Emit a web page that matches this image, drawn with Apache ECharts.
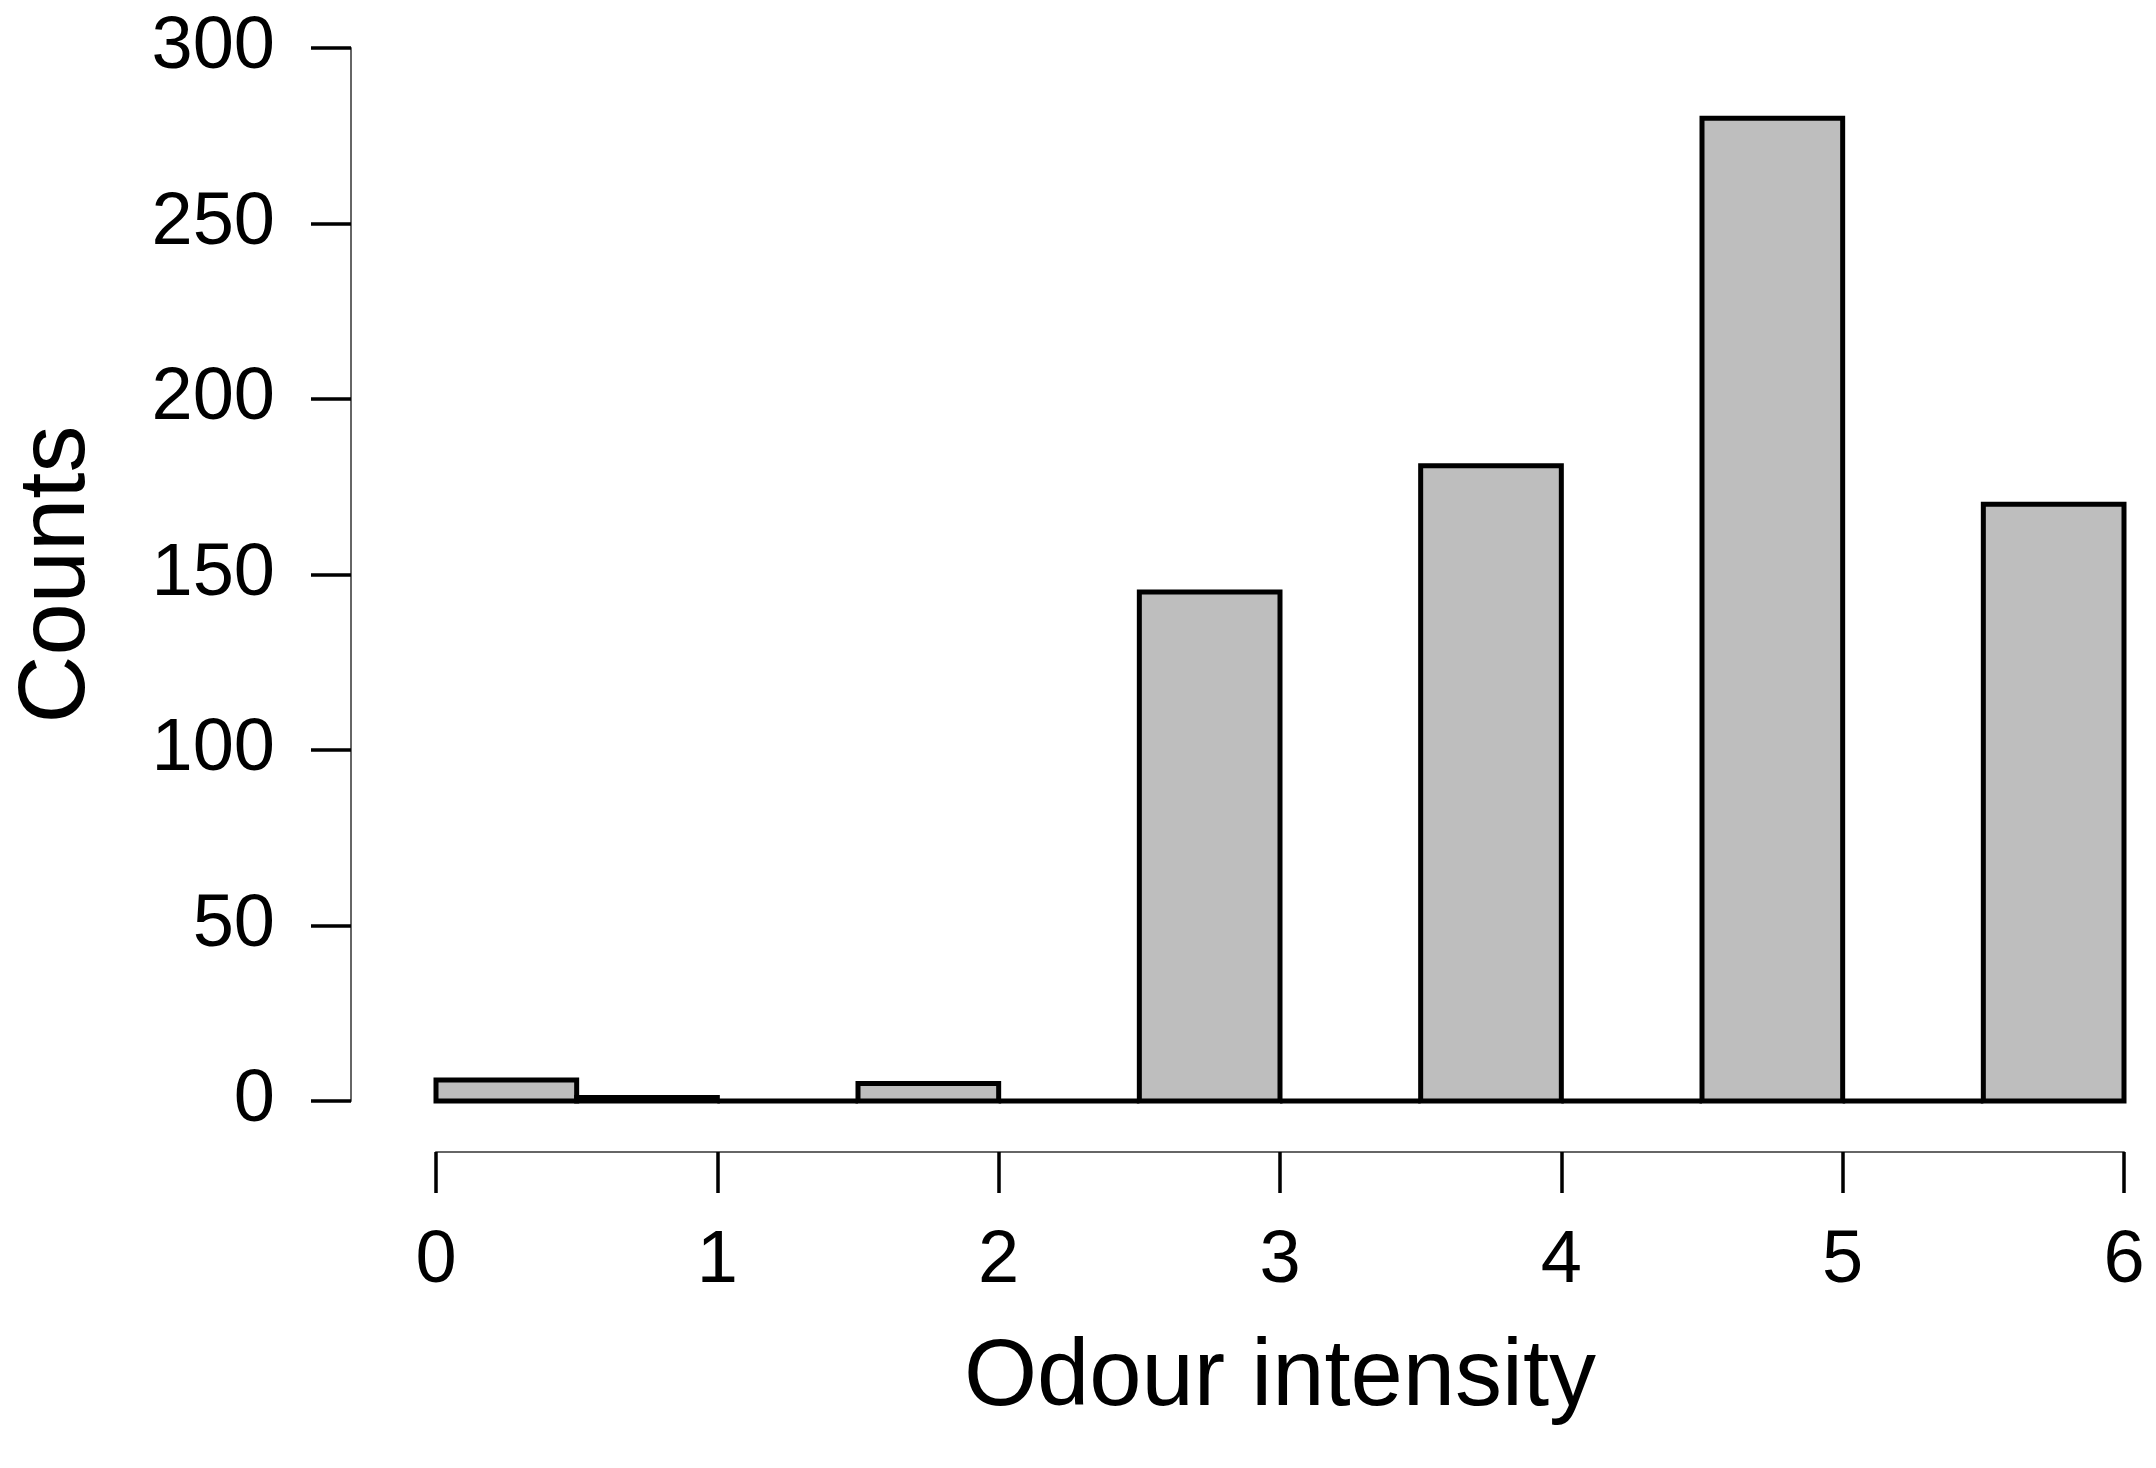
<!DOCTYPE html>
<html>
<head>
<meta charset="utf-8">
<script src="https://cdn.jsdelivr.net/npm/echarts@6/dist/echarts.min.js"></script>
<style>
  html, body { margin: 0; padding: 0; background: #fff; }
  #main { width: 2156px; height: 1468px; }
</style>
</head>
<body>
<div id="main"></div>
<script>
// 直方图的分箱 (宽 0.5)
var binStarts = [0, 0.5, 1, 1.5, 2, 2.5, 3, 3.5, 4, 4.5, 5, 5.5];
var binEnds = [0.5, 1, 1.5, 2, 2.5, 3, 3.5, 4, 4.5, 5, 5.5, 6];
var counts = [6, 1, 0, 5, 0, 145, 0, 181, 0, 280, 0, 170];
var xTicks = [0, 1, 2, 3, 4, 5, 6];
var yTicks = [0, 50, 100, 150, 200, 250, 300];

var fontFam = '"Liberation Sans", Arial, sans-serif';

var myChart = echarts.init(document.getElementById('main'));

var histData = binStarts.map(function (s, i) {
	return [s, binEnds[i], counts[i]];
});

var option = {
	backgroundColor: '#fff',
	animation: false,
	grid: {
		left: 436,
		right: 32,
		top: 48,
		bottom: 367
	},
	xAxis: {
		type: 'value',
		min: xTicks[0],
		max: xTicks[xTicks.length - 1],
		interval: 1,
		offset: 51,
		name: 'Odour intensity',
		nameLocation: 'middle',
		nameGap: 180,
		nameTextStyle: { fontSize: 94, fontFamily: fontFam, color: '#000', lineHeight: 94 },
		axisLine: { show: true, onZero: false, lineStyle: { color: '#666', width: 2 } },
		axisTick: { show: true, length: 41, lineStyle: { color: '#000', width: 3.5 } },
		axisLabel: { fontSize: 74, lineHeight: 74, margin: 73, color: '#000', fontFamily: fontFam },
		splitLine: { show: false }
	},
	yAxis: {
		type: 'value',
		min: yTicks[0],
		max: yTicks[yTicks.length - 1],
		interval: 50,
		offset: 85,
		name: 'Counts',
		nameLocation: 'middle',
		nameRotate: 90,
		nameGap: 246,
		nameTextStyle: { fontSize: 94, fontFamily: fontFam, color: '#000', lineHeight: 94 },
		axisLine: { show: true, onZero: false, lineStyle: { color: '#666', width: 2 } },
		axisTick: { show: true, length: 40, lineStyle: { color: '#000', width: 3.5 } },
		axisLabel: { fontSize: 74, margin: 76, color: '#000', fontFamily: fontFam },
		splitLine: { show: false }
	},
	series: [{
		type: 'custom',
		data: histData,
		encode: { x: [0, 1], y: 2 },
		renderItem: function (params, api) {
			var p0 = api.coord([api.value(0), api.value(2)]);
			var p1 = api.coord([api.value(1), 0]);
			return {
				type: 'rect',
				shape: { x: p0[0], y: p0[1], width: p1[0] - p0[0], height: p1[1] - p0[1] },
				style: { fill: '#bebebe', stroke: '#000', lineWidth: 5 }
			};
		}
	}]
};

myChart.setOption(option);
</script>
</body>
</html>
